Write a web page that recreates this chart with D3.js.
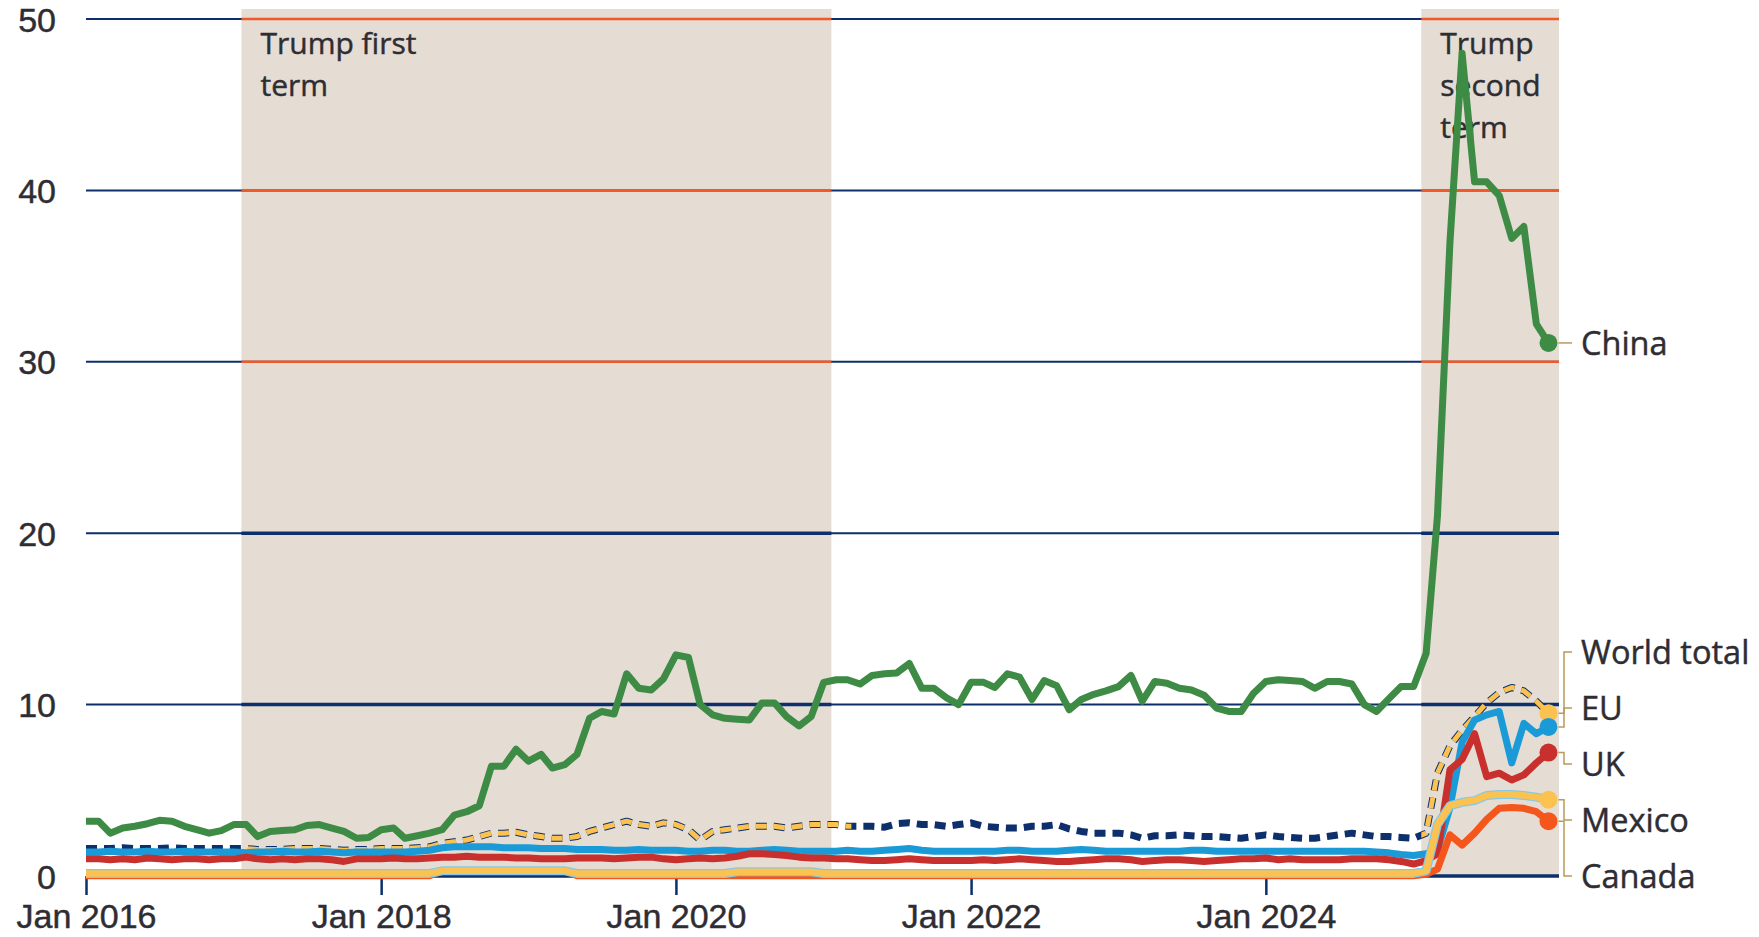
<!DOCTYPE html>
<html>
<head>
<meta charset="utf-8">
<script src="https://cdn.jsdelivr.net/npm/d3@7"></script>
<style>
  body { margin: 0; background: #fff; }
  svg text { font-family: "Open Sans", "Liberation Sans", Arial, sans-serif; fill: #2e2d33; stroke: #2e2d33; stroke-width: 0.45px; }
  svg text.axis-label { font-family: "Liberation Sans", Arial, sans-serif; }
</style>
</head>
<body>
<div id="chart"></div>
<script>
// Monthly series, Jan 2016 .. Dec 2025 (%)
const startMonth = new Date(2016, 0, 1);
const endMonth = new Date(2026, 0, 1);

const china = [
  3.2, 3.2, 2.5, 2.8, 2.9, 3.05, 3.25, 3.2, 2.9, 2.7, 2.5, 2.65,
  3.0, 3.0, 2.3, 2.6, 2.65, 2.7, 2.95, 3.0, 2.8, 2.6, 2.2, 2.25,
  2.7, 2.8, 2.2, 2.35, 2.5, 2.7, 3.55, 3.75, 4.1, 6.4, 6.4, 7.4,
  6.7, 7.1, 6.3, 6.5, 7.1, 9.2, 9.6, 9.45, 11.8, 10.95, 10.85, 11.5,
  12.9, 12.75, 10.0, 9.4, 9.2, 9.15, 9.1, 10.1, 10.1, 9.3, 8.75, 9.3,
  11.3, 11.45, 11.45, 11.2, 11.7, 11.8, 11.85, 12.4, 10.95, 10.95, 10.4, 10.0,
  11.3, 11.3, 11.0, 11.8, 11.6, 10.3, 11.4, 11.1, 9.7, 10.3, 10.6, 10.8,
  11.05, 11.7, 10.2, 11.35, 11.25, 10.95, 10.85, 10.55, 9.8, 9.6, 9.6, 10.65,
  11.35, 11.45, 11.4, 11.35, 10.95, 11.35, 11.35, 11.2, 10.0, 9.6, 10.35, 11.05,
  11.05, 13.0, 21.0, 37.0, 48.0, 40.5, 40.5, 39.7, 37.2, 37.9, 32.2, 31.1
];

const worldTotal = [
  1.6, 1.6, 1.6, 1.65, 1.6, 1.6, 1.6, 1.65, 1.6, 1.6, 1.6, 1.6,
  1.6, 1.6, 1.55, 1.55, 1.55, 1.6, 1.6, 1.6, 1.55, 1.5, 1.55, 1.55,
  1.6, 1.6, 1.6, 1.65, 1.7, 1.9, 2.0, 2.1, 2.3, 2.5, 2.5, 2.55,
  2.4, 2.3, 2.2, 2.2, 2.3, 2.6, 2.8, 3.0, 3.2, 3.0, 2.9, 3.1,
  3.0, 2.7, 2.1, 2.6, 2.7, 2.8, 2.9, 2.9, 2.9, 2.8, 2.9, 3.0,
  3.0, 3.0, 2.9, 2.9, 2.9, 2.85, 3.05, 3.1, 3.0, 3.0, 2.9, 3.0,
  3.1, 2.9, 2.85, 2.8, 2.8, 2.9, 2.9, 3.0, 2.75, 2.6, 2.5, 2.5,
  2.5, 2.4, 2.2, 2.35, 2.35, 2.4, 2.35, 2.3, 2.3, 2.25, 2.2, 2.3,
  2.4, 2.3, 2.25, 2.2, 2.2, 2.3, 2.4, 2.5, 2.4, 2.3, 2.3, 2.25,
  2.2, 2.5, 6.0, 7.6, 8.5, 9.3, 10.1, 10.7, 11.0, 10.8, 10.2, 9.5
];

const eu = [
  1.4, 1.4, 1.45, 1.4, 1.4, 1.45, 1.4, 1.4, 1.45, 1.4, 1.4, 1.4,
  1.4, 1.35, 1.4, 1.4, 1.45, 1.4, 1.4, 1.45, 1.4, 1.35, 1.4, 1.4,
  1.4, 1.4, 1.4, 1.45, 1.5, 1.65, 1.7, 1.7, 1.7, 1.7, 1.65, 1.65,
  1.65, 1.6, 1.6, 1.6, 1.55, 1.55, 1.55, 1.5, 1.5, 1.55, 1.5, 1.5,
  1.5, 1.45, 1.45, 1.5, 1.5, 1.45, 1.45, 1.5, 1.55, 1.5, 1.45, 1.45,
  1.45, 1.45, 1.5, 1.45, 1.45, 1.5, 1.55, 1.6, 1.5, 1.45, 1.45, 1.45,
  1.45, 1.45, 1.45, 1.5, 1.5, 1.45, 1.45, 1.45, 1.5, 1.55, 1.5, 1.45,
  1.45, 1.45, 1.45, 1.45, 1.45, 1.45, 1.5, 1.5, 1.45, 1.45, 1.45, 1.45,
  1.45, 1.45, 1.45, 1.45, 1.45, 1.45, 1.45, 1.45, 1.45, 1.4, 1.35, 1.25,
  1.2, 1.3, 1.5, 4.0, 7.8, 9.1, 9.4, 9.6, 6.6, 8.9, 8.3, 8.7
];

const uk = [
  1.0, 1.0, 0.95, 1.0, 0.95, 1.05, 1.0, 0.95, 1.0, 1.0, 0.95, 1.0,
  1.0, 1.1, 1.0, 0.95, 1.0, 0.95, 1.0, 1.0, 0.95, 0.85, 1.0, 1.0,
  1.0, 1.05, 1.0, 1.0, 1.05, 1.1, 1.1, 1.15, 1.1, 1.1, 1.1, 1.05,
  1.05, 1.0, 1.0, 1.0, 1.05, 1.05, 1.05, 1.0, 1.05, 1.1, 1.1, 1.0,
  0.95, 1.0, 1.05, 1.0, 1.05, 1.15, 1.3, 1.3, 1.25, 1.2, 1.1, 1.05,
  1.05, 1.0, 1.0, 0.95, 0.9, 0.9, 0.95, 1.0, 0.95, 0.9, 0.9, 0.9,
  0.9, 0.95, 0.9, 0.95, 1.0, 0.95, 0.9, 0.85, 0.85, 0.9, 0.95, 1.0,
  1.0, 0.95, 0.85, 0.9, 0.95, 0.95, 0.9, 0.85, 0.9, 0.95, 1.0, 1.0,
  1.05, 0.95, 1.0, 0.95, 0.95, 0.95, 0.95, 1.0, 1.0, 1.0, 0.95, 0.85,
  0.7, 0.9, 1.3, 6.2, 6.8, 8.3, 5.8, 6.0, 5.6, 5.9, 6.6, 7.2
];

const mexico = [
  0.15, 0.15, 0.15, 0.15, 0.15, 0.15, 0.15, 0.15, 0.15, 0.15, 0.15, 0.15,
  0.15, 0.15, 0.15, 0.15, 0.15, 0.15, 0.15, 0.15, 0.15, 0.15, 0.15, 0.15,
  0.15, 0.15, 0.15, 0.15, 0.15, 0.3, 0.3, 0.3, 0.3, 0.3, 0.3, 0.3,
  0.3, 0.3, 0.3, 0.3, 0.15, 0.15, 0.15, 0.15, 0.15, 0.15, 0.15, 0.15,
  0.15, 0.15, 0.15, 0.15, 0.15, 0.25, 0.25, 0.25, 0.25, 0.25, 0.25, 0.25,
  0.15, 0.15, 0.15, 0.15, 0.15, 0.15, 0.15, 0.15, 0.15, 0.15, 0.15, 0.15,
  0.15, 0.15, 0.15, 0.15, 0.15, 0.15, 0.15, 0.15, 0.15, 0.15, 0.15, 0.15,
  0.15, 0.15, 0.15, 0.15, 0.15, 0.15, 0.15, 0.15, 0.15, 0.15, 0.15, 0.15,
  0.15, 0.15, 0.15, 0.15, 0.15, 0.15, 0.15, 0.15, 0.15, 0.15, 0.15, 0.15,
  0.15, 0.3, 3.0, 4.1, 4.3, 4.4, 4.7, 4.75, 4.75, 4.7, 4.6, 4.45
];

const canada = [
  0.02, 0.02, 0.02, 0.02, 0.02, 0.02, 0.02, 0.02, 0.02, 0.02, 0.02, 0.02,
  0.02, 0.02, 0.02, 0.02, 0.02, 0.02, 0.02, 0.02, 0.02, 0.02, 0.02, 0.02,
  0.02, 0.02, 0.02, 0.02, 0.02, 0.3, 0.3, 0.3, 0.3, 0.3, 0.3, 0.3,
  0.3, 0.3, 0.3, 0.3, 0.02, 0.02, 0.02, 0.02, 0.02, 0.02, 0.02, 0.02,
  0.02, 0.02, 0.02, 0.02, 0.02, 0.02, 0.02, 0.02, 0.02, 0.02, 0.02, 0.02,
  0.02, 0.02, 0.02, 0.02, 0.02, 0.02, 0.02, 0.02, 0.02, 0.02, 0.02, 0.02,
  0.02, 0.02, 0.02, 0.02, 0.02, 0.02, 0.02, 0.02, 0.02, 0.02, 0.02, 0.02,
  0.02, 0.02, 0.02, 0.02, 0.02, 0.02, 0.02, 0.02, 0.02, 0.02, 0.02, 0.02,
  0.02, 0.02, 0.02, 0.02, 0.02, 0.02, 0.02, 0.02, 0.02, 0.02, 0.02, 0.02,
  0.02, 0.1, 0.4, 2.4, 1.8, 2.5, 3.3, 3.95, 4.0, 3.95, 3.75, 3.2
];

const yTicks = [0, 10, 20, 30, 40, 50];
const xTicks = [new Date(2016, 0, 1), new Date(2018, 0, 1), new Date(2020, 0, 1),
                new Date(2022, 0, 1), new Date(2024, 0, 1)];

const terms = [
  {start: new Date(2017, 0, 20), end: new Date(2021, 0, 20), label: ["Trump first", "term"]},
  {start: new Date(2025, 0, 20), end: new Date(2026, 0, 1), label: ["Trump", "second", "term"]}
];

const months = d3.timeMonth.range(startMonth, endMonth);

const series = [
  {name: "World total", values: worldTotal, color: "#0d2f6b", dot: "#fcc24f", dashed: true},
  {name: "EU", values: eu, color: "#1a9ad6"},
  {name: "UK", values: uk, color: "#c8302d"},
  {name: "Canada", values: canada, color: "#f4561c"},
  {name: "Mexico", values: mexico, color: "#fcc24f", casing: "#86c9e6"},
  {name: "China", values: china, color: "#3d8b45"}
];

const W = 1759, H = 937;
const navy = "#0d2f6b";

const svg = d3.select("#chart").append("svg")
    .attr("width", W)
    .attr("height", H);

const x = d3.scaleTime()
    .domain([startMonth, endMonth])
    .range([86, 1561]);

const y = d3.scaleLinear()
    .domain([0, 50])
    .range([876, 19]);

const plotRight = x(endMonth) - 2;

// Shaded presidential terms
svg.append("g")
   .selectAll("rect")
   .data(terms)
   .join("rect")
   .attr("x", d => x(d.start))
   .attr("y", y(50) - 10)
   .attr("width", d => Math.min(x(d.end), plotRight) - x(d.start))
   .attr("height", y(0) - y(50) + 10)
   .attr("fill", "#e5dcd3");

// Gridlines
svg.append("g")
   .selectAll("line")
   .data(yTicks)
   .join("line")
   .attr("x1", x(startMonth))
   .attr("x2", plotRight)
   .attr("y1", d => y(d))
   .attr("y2", d => y(d))
   .attr("stroke", navy)
   .attr("stroke-width", 2);

// inside the shaded bands the upper gridlines show orange
const bandGrid = [];
terms.forEach(t => yTicks.forEach(v => bandGrid.push({t, v})));
svg.append("g")
   .selectAll("line")
   .data(bandGrid)
   .join("line")
   .attr("x1", d => x(d.t.start))
   .attr("x2", d => Math.min(x(d.t.end), plotRight))
   .attr("y1", d => y(d.v))
   .attr("y2", d => y(d.v))
   .attr("stroke", d => d.v >= 30 ? "#f05a28" : navy)
   .attr("stroke-width", d => d.v >= 30 ? 2.5 : 3.5);

// Term labels
terms.forEach(t => {
  const txt = svg.append("text")
     .attr("x", x(t.start) + 19)
     .attr("y", 54)
     .style("font-size", "30px");
  t.label.forEach((s, i) => {
    txt.append("tspan")
       .attr("x", x(t.start) + 19)
       .attr("dy", i === 0 ? 0 : 42)
       .text(s);
  });
});

// Y labels
svg.append("g")
   .selectAll("text")
   .data(yTicks)
   .join("text")
   .attr("class", "axis-label")
   .attr("x", 56)
   .attr("y", d => y(d))
   .attr("dy", "0.37em")
   .attr("text-anchor", "end")
   .style("font-size", "34px")
   .text(d => d);

// X axis
const xAxis = svg.append("g")
   .attr("transform", `translate(0,${y(0)})`)
   .call(d3.axisBottom(x)
      .tickValues(xTicks)
      .tickSize(19)
      .tickPadding(9)
      .tickFormat(d3.timeFormat("Jan %Y")));
xAxis.select(".domain").remove();
xAxis.selectAll("line").attr("stroke", navy).attr("stroke-width", 2.5);
xAxis.attr("font-family", null).attr("font-size", null);
xAxis.selectAll("text")
     .attr("class", "axis-label")
     .attr("fill", null)
     .style("font-size", "34px");

// Lines
const line = d3.line()
    .x((d, i) => x(months[i]))
    .y(d => y(d));

const defs = svg.append("defs");
const clip = defs.append("clipPath").attr("id", "termClip");
clip.selectAll("rect")
    .data(terms)
    .join("rect")
    .attr("x", d => x(d.start))
    .attr("y", 0)
    .attr("width", d => Math.min(x(d.end), plotRight) - x(d.start) + 20)
    .attr("height", H);

const lines = svg.append("g").attr("fill", "none")
    .attr("stroke-linejoin", "round");

series.forEach(s => {
  if (s.casing) {
    lines.append("path")
       .attr("d", line(s.values))
       .attr("stroke", s.casing)
       .attr("stroke-width", 9);
  }
  if (s.dashed) {
    lines.append("path")
       .attr("d", line(s.values))
       .attr("stroke", s.color)
       .attr("stroke-width", 7)
       .attr("stroke-dasharray", "11,7");
    // dashes read yellow inside the shaded terms
    lines.append("path")
       .attr("d", line(s.values))
       .attr("clip-path", "url(#termClip)")
       .attr("stroke", s.dot)
       .attr("stroke-width", 5)
       .attr("stroke-dasharray", "11,7");
  } else {
    lines.append("path")
       .attr("d", line(s.values))
       .attr("stroke", s.color)
       .attr("stroke-width", s.casing ? 6.5 : 7);
  }
});

// End dots
const last = months.length - 1;
svg.append("g")
   .selectAll("circle")
   .data(series)
   .join("circle")
   .attr("cx", x(months[last]))
   .attr("cy", d => y(d.values[last]))
   .attr("r", 9)
   .attr("fill", d => d.dot || d.color);

// Right-hand labels, stacked up from the baseline except China
const labelOrder = ["Canada", "Mexico", "UK", "EU", "World total"];
const labelY = {};
labelOrder.forEach((n, i) => { labelY[n] = y(0) - i * 56; });
labelY["China"] = y(china[last]);

const xEnd = x(months[last]);
const legend = svg.append("g");
series.forEach(s => {
  const y0 = y(s.values[last]);
  const y1 = labelY[s.name];
  legend.append("path")
     .attr("d", `M${xEnd + 10},${y0} H1564 V${y1} H1572`)
     .attr("fill", "none")
     .attr("stroke", "#b99a5b")
     .attr("stroke-width", 1.5);
  legend.append("text")
     .attr("x", 1581)
     .attr("y", y1)
     .attr("dy", "0.36em")
     .style("font-size", "32.5px")
     .text(s.name);
});
</script>
</body>
</html>
